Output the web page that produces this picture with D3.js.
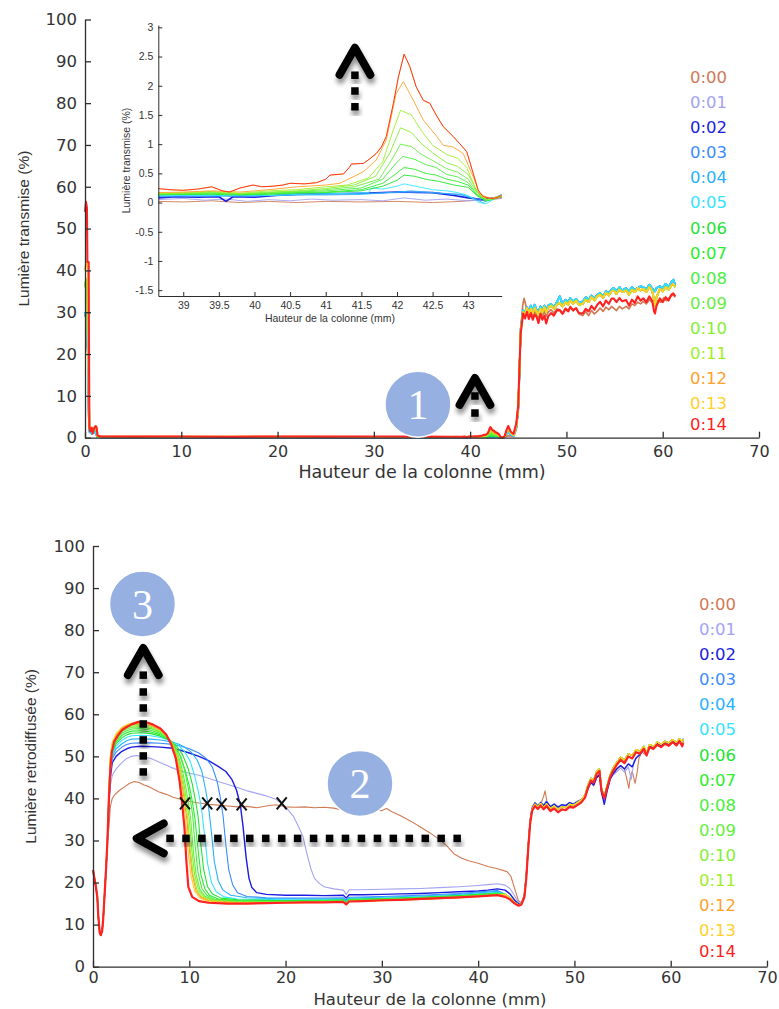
<!DOCTYPE html>
<html><head><meta charset="utf-8">
<script src="https://cdn.jsdelivr.net/npm/d3@7"></script>
<style>body{margin:0;background:#fff}svg{display:block}</style>
</head><body>
<svg id="chart" width="779" height="1009"></svg>
<script>
// ---------- categories / ticks ----------
const seriesLabels = ["0:00","0:01","0:02","0:03","0:04","0:05","0:06","0:07","0:08","0:09","0:10","0:11","0:12","0:13","0:14"];
const seriesColors = ["#d07a55","#a3a3f5","#1c1ce0","#3a8cff","#27b2ff","#34e4ff","#22e432","#2aee2a","#48ef3c","#66ef3c","#84ef32","#9eef28","#ffa12a","#ffd02a","#ff2222"];
const xTicks = [0,10,20,30,40,50,60,70];
const yTicks = [0,10,20,30,40,50,60,70,80,90,100];
const insetXTicks = [39,39.5,40,40.5,41,41.5,42,42.5,43];
const insetYTicks = [-1.5,-1,-0.5,0,0.5,1,1.5,2,2.5,3];

// ---------- transmission: heads (0 - 38 mm) ----------
const transHeadRed = [[0,54],[0.1,56.4],[0.2,55],[0.25,42],[0.38,42],[0.45,2.5],[0.55,1.5],[0.7,2.4],[0.8,1],[0.95,2.3],[1.1,2.8],[1.2,2.5],[1.3,0.5],[1.6,0.3],[5,0.25],[10,0.3],[15,0.2],[20,0.3],[25,0.25],[30,0.28],[35,0.26],[38,0.22]];
const transHeadOrange = [[0,40],[0.12,42],[0.3,41],[0.4,3],[0.6,2],[0.8,1.5],[1,2.6],[1.2,2.2],[1.3,0.4],[1.6,0.25],[10,0.25],[20,0.25],[30,0.22],[38,0.2]];
const transHeadGreen = [[0,36],[0.12,38],[0.25,36],[0.3,23.5],[0.38,23],[0.45,2.2],[0.7,1.6],[1,2.2],[1.2,1.8],[1.3,0.3],[1.6,0.2],[10,0.2],[20,0.2],[30,0.2],[38,0.18]];
const transHeadBlue = [[0,30],[0.15,28],[0.3,20],[0.42,1.5],[0.7,1],[1,1.5],[1.3,0.2],[1.6,0.1],[10,0.1],[20,0.1],[30,0.1],[38,0.1]];

// ---------- transmission: inset window (38.65 - 43.47 mm) ----------
const insetT00 = [[38.65,0.02],[39.0,0.01],[39.4,0.03],[39.8,0.0],[40.2,0.02],[40.6,0.0],[41.0,0.02],[41.5,0.01],[42.0,0.02],[42.5,0.0],[42.9,0.02],[43.1,0.04],[43.3,0.05],[43.47,0.07]];
const insetT01 = [[38.65,0.05],[39.0,0.07],[39.3,0.04],[39.6,0.06],[39.9,0.02],[40.2,0.05],[40.5,0.03],[40.8,0.06],[41.1,0.04],[41.5,0.05],[41.8,0.03],[42.1,0.08],[42.4,0.04],[42.7,0.06],[43.0,0.03],[43.2,0.04],[43.47,0.08]];
const insetT02 = [[38.65,0.08],[38.9,0.1],[39.2,0.09],[39.5,0.1],[39.6,0.02],[39.7,0.1],[40.0,0.09],[40.3,0.12],[40.6,0.14],[41.0,0.15],[41.5,0.16],[42.0,0.18],[42.5,0.17],[42.8,0.12],[43.0,0.08],[43.2,0.05],[43.47,0.1]];
const insetT03 = [[38.65,0.1],[39.0,0.1],[39.4,0.12],[39.8,0.1],[40.2,0.12],[40.6,0.14],[41.0,0.15],[41.5,0.16],[42.0,0.17],[42.5,0.17],[42.9,0.14],[43.1,0.07],[43.25,0.03],[43.47,0.12]];
const insetT04 = [[38.65,0.11],[39.0,0.12],[39.4,0.11],[39.8,0.12],[40.2,0.12],[40.6,0.13],[41.0,0.13],[41.5,0.14],[42.0,0.18],[42.2,0.2],[42.4,0.18],[42.6,0.16],[42.9,0.13],[43.1,0.06],[43.2,0.0],[43.3,0.04],[43.47,0.14]];
const insetT05 = [[38.65,0.12],[39.0,0.13],[39.4,0.12],[39.8,0.13],[40.2,0.12],[40.6,0.14],[41.0,0.15],[41.4,0.16],[41.6,0.17],[41.65,0.25],[41.8,0.23],[42.0,0.28],[42.1,0.32],[42.3,0.27],[42.5,0.22],[42.7,0.2],[42.85,0.17],[43.0,0.12],[43.15,0.0],[43.25,-0.02],[43.35,0.05],[43.47,0.12]];
const insetT06 = [[38.65,0.13],[39.0,0.14],[39.4,0.14],[39.8,0.13],[40.2,0.14],[40.6,0.16],[41.0,0.17],[41.5,0.2],[41.8,0.28],[42.0,0.38],[42.1,0.47],[42.25,0.45],[42.4,0.4],[42.6,0.36],[42.8,0.3],[43.0,0.26],[43.12,0.12],[43.25,0.03],[43.47,0.1]];
const insetT07 = [[38.65,0.14],[39.0,0.14],[39.4,0.15],[39.8,0.14],[40.2,0.15],[40.6,0.17],[41.0,0.18],[41.5,0.22],[41.8,0.33],[41.97,0.48],[42.1,0.6],[42.25,0.57],[42.4,0.5],[42.55,0.47],[42.7,0.4],[42.85,0.36],[43.0,0.3],[43.12,0.13],[43.25,0.03],[43.47,0.1]];
const insetT08 = [[38.65,0.14],[39.0,0.15],[39.4,0.16],[39.8,0.14],[40.2,0.16],[40.6,0.18],[41.0,0.2],[41.5,0.25],[41.8,0.4],[41.95,0.62],[42.08,0.79],[42.25,0.74],[42.4,0.65],[42.55,0.6],[42.7,0.48],[42.85,0.44],[43.0,0.34],[43.12,0.15],[43.25,0.04],[43.47,0.11]];
const insetT09 = [[38.65,0.15],[39.0,0.15],[39.4,0.17],[39.8,0.15],[40.2,0.17],[40.6,0.19],[41.0,0.22],[41.4,0.27],[41.75,0.4],[41.92,0.72],[42.05,1.0],[42.2,0.96],[42.35,0.82],[42.5,0.72],[42.7,0.58],[42.85,0.52],[43.0,0.4],[43.12,0.18],[43.25,0.04],[43.47,0.11]];
const insetT10 = [[38.65,0.15],[39.0,0.16],[39.4,0.18],[39.8,0.15],[40.2,0.18],[40.6,0.2],[41.0,0.24],[41.4,0.3],[41.7,0.45],[41.9,0.85],[42.05,1.28],[42.2,1.2],[42.35,1.0],[42.5,0.85],[42.7,0.68],[42.85,0.62],[43.0,0.48],[43.12,0.2],[43.25,0.05],[43.47,0.12]];
const insetT11 = [[38.65,0.16],[39.0,0.17],[39.4,0.19],[39.8,0.16],[40.2,0.2],[40.6,0.22],[41.0,0.27],[41.3,0.3],[41.6,0.42],[41.8,0.7],[41.95,1.25],[42.05,1.58],[42.2,1.5],[42.35,1.22],[42.5,0.98],[42.7,0.82],[42.85,0.76],[42.98,0.6],[43.1,0.25],[43.2,0.08],[43.3,0.05],[43.47,0.12]];
const insetT12 = [[38.65,0.17],[39.0,0.18],[39.4,0.2],[39.8,0.18],[40.2,0.22],[40.6,0.27],[41.0,0.3],[41.2,0.33],[41.4,0.45],[41.53,0.53],[41.71,0.73],[41.85,1.07],[41.99,1.87],[42.09,2.07],[42.23,1.75],[42.37,1.41],[42.56,1.13],[42.65,0.98],[42.79,0.95],[42.93,0.84],[43.07,0.44],[43.16,0.15],[43.3,0.07],[43.47,0.1]];
const insetT14 = [[38.65,0.24],[38.8,0.22],[39.0,0.21],[39.2,0.23],[39.4,0.27],[39.55,0.2],[39.65,0.18],[39.8,0.25],[39.98,0.3],[40.1,0.27],[40.26,0.28],[40.4,0.3],[40.5,0.33],[40.7,0.32],[40.87,0.34],[41.0,0.4],[41.06,0.47],[41.25,0.49],[41.33,0.6],[41.36,0.66],[41.53,0.67],[41.62,0.75],[41.71,0.84],[41.78,0.95],[41.85,1.13],[41.95,1.7],[42.02,2.15],[42.1,2.54],[42.18,2.33],[42.27,1.98],[42.37,1.75],[42.46,1.7],[42.55,1.5],[42.65,1.3],[42.79,1.13],[42.88,1.01],[42.98,0.87],[43.07,0.5],[43.14,0.21],[43.21,0.1],[43.33,0.07],[43.4,0.08],[43.47,0.13]];
const insetT13 = insetT14;

// ---------- transmission: tails (43.5 - 61.3 mm) ----------
const transTailRed = [[43.6,0.5],[43.8,2],[43.96,2.8],[44.2,1.5],[44.5,0.9],[44.8,3.5],[45.0,8],[45.1,15.4],[45.25,24.9],[45.5,29.7],[45.7,28.5],[45.9,30.1],[46.1,28.4],[46.3,29.8],[46.5,28.2],[46.7,29.4],[46.9,28.9],[47.1,27.4],[47.3,29.6],[47.5,28.2],[47.7,29.2],[47.9,27.3],[48.1,29],[48.4,29.8],[48.7,29.2],[49.0,30.4],[49.3,30.5],[49.6,29.6],[49.9,30.8],[50.2,30.2],[50.4,31.3],[50.7,30.4],[51.0,31],[51.3,29.8],[51.7,29.7],[52.0,30.8],[52.3,30.2],[52.6,31.5],[52.9,30.6],[53.2,31.8],[53.5,32.5],[53.8,31.4],[54.1,32.8],[54.4,32],[54.7,33.3],[54.9,33.3],[55.2,32.4],[55.5,33.4],[55.8,32.6],[56.2,32.9],[56.5,31.6],[56.8,33],[57.1,32.2],[57.4,33.8],[57.7,32.8],[58.0,33.3],[58.3,32.4],[58.6,33.8],[58.9,32.8],[59.1,30.2],[59.2,29.7],[59.35,31.5],[59.7,33.3],[60.0,32.4],[60.3,33.6],[60.6,32.8],[60.9,34.2],[61.1,34.5],[61.3,33.8]];
const transTailGreen = [[43.6,0.3],[43.8,1.6],[43.96,2.2],[44.2,1.2],[44.5,0.6],[44.8,3],[45.0,7.5],[45.1,15],[45.25,25.5],[45.5,30],[45.7,29.5],[45.9,31],[46.1,29.6],[46.3,30.8],[46.5,29.8],[46.7,31],[46.9,30.2],[47.1,29.4],[47.3,30.8],[47.5,30],[47.7,31.2],[47.9,30],[48.1,31],[48.4,31.6],[48.7,30.8],[49.0,31.8],[49.3,32.2],[49.6,31.4],[49.9,32.4],[50.2,31.8],[50.4,32.8],[50.7,32],[51.0,32.8],[51.3,31.8],[51.7,32],[52.0,33],[52.3,32.4],[52.6,33.6],[52.9,32.8],[53.2,33.8],[53.5,34.2],[53.8,33.4],[54.1,34.6],[54.4,34],[54.7,35],[54.9,35.2],[55.2,34.4],[55.5,35.4],[55.8,34.8],[56.2,35.2],[56.5,34.2],[56.8,35.4],[57.1,34.8],[57.4,35.8],[57.7,35.2],[58.0,35.6],[58.3,34.8],[58.6,36],[58.9,35.2],[59.1,33],[59.2,31.6],[59.35,33.5],[59.7,35.6],[60.0,35],[60.3,36],[60.6,35.4],[60.9,36.4],[61.1,36.8],[61.3,36]];
const transTailBlue = [[43.6,0.2],[43.8,1],[43.96,1.4],[44.2,0.8],[44.5,0.4],[44.8,2.5],[45.0,7],[45.1,14],[45.25,26],[45.5,30.5],[45.7,30],[45.9,31.2],[46.1,30.2],[46.3,31.6],[46.5,30.4],[46.7,31.8],[46.9,30.6],[47.1,30],[47.3,31.4],[47.5,30.6],[47.7,31.6],[47.9,30.4],[48.1,31.6],[48.4,32],[48.7,31.2],[49.0,32.4],[49.3,33.8],[49.6,32],[49.9,33],[50.2,32.4],[50.4,33.4],[50.7,32.6],[51.0,33.2],[51.3,32.2],[51.7,32.6],[52.0,33.6],[52.3,33],[52.6,34],[52.9,33.2],[53.2,34.2],[53.5,34.6],[53.8,33.8],[54.1,35],[54.4,34.6],[54.7,35.4],[54.9,35.8],[55.2,35],[55.5,36],[55.8,35.2],[56.2,35.8],[56.5,35],[56.8,36],[57.1,35.4],[57.7,36.2],[58.0,36],[58.3,35.4],[58.6,36.6],[58.9,35.8],[59.2,35],[59.35,35.8],[59.7,36.2],[60.0,35.8],[60.3,36.8],[60.6,36],[60.9,37.2],[61.1,37.8],[61.3,36.6]];
const transTailBrown = [[43.6,0.1],[43.96,0.5],[44.5,0.3],[44.8,2],[45.0,6.5],[45.1,13],[45.25,25],[45.45,31.5],[45.6,33.3],[45.75,32],[45.9,30.5],[46.1,29.2],[46.3,30.2],[46.5,29],[46.7,30],[46.9,29.4],[47.1,28.8],[47.3,30],[47.5,29.2],[47.7,30.2],[47.9,29],[48.1,30],[48.4,30.6],[48.7,29.8],[49.0,30.8],[49.3,30.6],[49.6,29.8],[49.9,31],[50.2,30.4],[50.4,31.2],[50.7,30.6],[51.0,30.8],[51.3,29.6],[51.7,29.2],[52.0,30.2],[52.3,29.2],[52.6,30.4],[52.9,29.6],[53.2,30.2],[53.5,31],[53.8,30.2],[54.1,31.2],[54.4,30.6],[54.7,31.4],[54.9,31],[55.2,30.4],[55.5,31.4],[55.8,30.8],[56.2,31.4],[56.5,30.8],[56.8,32],[57.1,31.6],[57.4,32.4],[57.7,32],[58.0,32.6],[58.3,32],[58.6,33],[58.9,32.4],[59.2,31.8],[59.5,32.8],[59.8,32.4],[60.1,33.4],[60.4,32.8],[60.8,33.8],[61.1,34.2],[61.3,33.6]];

// ---------- backscattering: shared head (0 - 1.5 mm) ----------
const backHead = [[0,23],[0.15,21],[0.3,19],[0.45,16.5],[0.55,12],[0.7,8],[0.8,7.5],[0.95,8.5],[1.05,11],[1.2,17],[1.35,23],[1.5,30]];

// ---------- backscattering: bodies (1.65 - 42 mm) ----------
const backB00 = [[1.65,33],[1.8,38],[2.0,40],[2.3,41],[2.8,42],[3.3,42.8],[3.8,43.6],[4.3,44],[4.8,43.8],[5.3,43.2],[5.8,42.8],[6.3,42.2],[6.8,41.6],[7.3,41.2],[7.8,40.8],[8.3,40.3],[8.8,40.0],[9.5,39.6],[10.2,39.2],[11,38.9],[12,38.6],[13,38.4],[14,38.2],[15,38],[16,38.1],[17,37.8],[18,38.2],[19,38.5],[20,38],[21,37.9],[22,38],[23,37.8],[24,37.9],[25,37.7],[26,37.2],[26.5,38],[27,37.6],[28,37.5],[29,37.3],[30,37.1],[30.5,37.6],[31,36.9],[32,35.8],[33,34.6],[34,33.2],[35,31.8],[36,30.2],[36.8,28.6],[37.5,26.8],[38.3,25.8],[39,25.2],[40,24.6],[41,23.8],[42,23.3],[43,22.6]];
const backB01 = [[1.65,38],[1.8,43],[2.0,45.5],[2.4,47],[3,48.5],[3.5,49.5],[4,50],[4.5,50.2],[5,50],[5.5,49.8],[6,49.5],[6.5,49],[7,48.5],[7.5,48],[8,47.5],[9,46.6],[10,46],[11,45.5],[12,44.8],[13,44],[14,43.3],[15,42.6],[16,41.8],[17,41.2],[18,40.6],[19,39.8],[19.6,38.8],[20.2,37.4],[20.8,35.8],[21.3,33.5],[21.8,31],[22.2,27],[22.6,23.5],[23,21],[23.5,19.8],[24,19],[25,18.5],[26,18.2],[26.3,17.2],[26.6,18.3],[28,18.3],[30,18.4],[32,18.5],[34,18.6],[36,18.8],[38,19],[40,19.3],[41,19.5],[42,19.7]];
const backB02 = [[1.65,39],[1.8,45],[2.0,48.5],[2.4,50],[3,51.2],[3.5,51.8],[4,52.2],[5,52.4],[6,52.3],[7,52.2],[8,52],[9,51.5],[10,50.8],[11,50],[12,49],[13,47.6],[13.8,46.4],[14.4,44.6],[14.9,42],[15.3,38.5],[15.6,33],[15.9,26],[16.2,21],[16.5,18.8],[17,17.6],[18,17.2],[20,17],[22,17],[24,16.9],[26,17],[26.3,16.3],[26.6,17.1],[28,17.1],[30,17.2],[32,17.3],[34,17.4],[36,17.6],[38,17.8],[40,18],[41,18.2],[42,18.5]];
const backB03 = [[1.65,39],[1.8,46],[2.0,49.5],[2.4,51],[3,52.2],[3.5,52.8],[4,53.1],[5,53.2],[6,53.2],[7,53.1],[8,52.9],[9,52.5],[10,51.8],[11,50.8],[11.8,49.4],[12.4,47.4],[12.9,44],[13.2,40.5],[13.5,36],[13.8,29],[14.1,23],[14.5,19.5],[15,17.6],[16,16.7],[18,16.4],[20,16.3],[24,16.3],[26,16.4],[26.3,15.8],[26.6,16.5],[30,16.7],[34,17],[38,17.4],[42,18.1]];
const backB04 = [[1.65,39],[1.8,46.5],[2.0,50],[2.4,51.8],[3,53],[3.5,53.7],[4,54.1],[5,54.2],[6,54.1],[7,53.9],[8,53.5],[8.8,53],[9.5,52.2],[10.2,51],[10.8,49.2],[11.3,46.5],[11.7,42],[12,38],[12.3,32],[12.6,25],[13,20.5],[13.5,18.2],[14.3,17],[16,16.4],[20,16.1],[24,16.1],[26,16.2],[26.3,15.6],[26.6,16.3],[30,16.5],[34,16.8],[38,17.2],[42,17.9]];
const backB05 = [[1.65,39.5],[1.8,47],[2.0,50.5],[2.4,52.5],[3,53.8],[3.5,54.5],[4,54.9],[5,55],[6,54.9],[7,54.5],[8,53.8],[8.8,52.8],[9.5,51.2],[10.1,48.8],[10.6,45],[11,41],[11.3,37],[11.6,31],[11.9,24.5],[12.3,20],[12.8,17.8],[13.6,16.6],[15,16.1],[20,15.9],[24,15.9],[26,16],[26.3,15.4],[26.6,16.1],[30,16.3],[34,16.6],[38,17],[42,17.7]];
const backB06 = [[1.65,40],[1.8,47.5],[2.0,51],[2.4,53],[3,54.4],[3.5,55.1],[4,55.5],[5,55.6],[6,55.4],[7,54.8],[8,53.8],[8.7,52.4],[9.3,50.4],[9.9,47],[10.3,43.5],[10.6,40],[10.9,36],[11.2,29],[11.5,23],[11.9,19],[12.4,17.3],[13.3,16.3],[15,15.9],[20,15.7],[24,15.8],[26,15.9],[26.3,15.3],[26.6,16],[30,16.2],[34,16.5],[38,16.9],[42,17.5]];
const backB07 = [[1.65,40],[1.8,48],[2.0,51.5],[2.4,53.5],[3,55],[3.5,55.6],[4,56],[5,56.1],[6,55.8],[7,55.1],[7.8,54],[8.5,52.4],[9.1,50],[9.6,46.5],[10,43],[10.3,39.5],[10.6,35],[10.9,28],[11.2,22],[11.6,18.6],[12.1,17],[13,16.1],[15,15.7],[20,15.6],[24,15.7],[26,15.8],[26.3,15.2],[26.6,15.9],[30,16.1],[34,16.4],[38,16.8],[42,17.4]];
const backB08 = [[1.65,40.5],[1.8,48.5],[2.0,52],[2.4,54],[3,55.5],[3.5,56.1],[4,56.5],[5,56.6],[6,56.2],[7,55.4],[7.8,54.2],[8.4,52.8],[9,50.4],[9.5,46.8],[9.8,43.5],[10.1,40],[10.35,36],[10.6,29],[10.9,22.5],[11.3,18.6],[11.8,17],[12.7,16],[15,15.6],[20,15.5],[24,15.6],[26,15.7],[26.3,15.1],[26.6,15.8],[30,16],[34,16.3],[38,16.7],[42,17.3]];
const backB09 = [[1.65,41],[1.8,49],[2.0,52.5],[2.4,54.5],[3,55.9],[3.5,56.5],[4,56.9],[5,57],[6,56.6],[7,55.7],[7.8,54.4],[8.4,52.6],[8.9,50],[9.3,46.5],[9.65,42.5],[9.9,39],[10.15,35],[10.4,28],[10.7,22],[11.1,18.4],[11.6,16.8],[12.5,15.9],[15,15.5],[20,15.4],[24,15.5],[26,15.6],[26.3,15],[26.6,15.7],[30,15.9],[34,16.2],[38,16.6],[42,17.2]];
const backB10 = [[1.65,41],[1.8,49.3],[2.0,52.8],[2.4,54.8],[3,56.2],[3.5,56.8],[4,57.2],[5,57.3],[6,56.9],[7,55.9],[7.7,54.7],[8.3,52.8],[8.8,50],[9.2,46.3],[9.5,42.5],[9.75,39],[10,35],[10.25,28],[10.55,22],[10.95,18.3],[11.5,16.7],[12.4,15.8],[15,15.4],[20,15.3],[24,15.4],[26,15.5],[26.3,14.9],[26.6,15.6],[30,15.8],[34,16.1],[38,16.5],[42,17.1]];
const backB11 = [[1.65,41.5],[1.8,49.6],[2.0,53],[2.4,55],[3,56.5],[3.5,57.1],[4,57.5],[5,57.6],[6,57.2],[7,56.1],[7.7,54.8],[8.2,53.1],[8.7,50.2],[9.1,46.4],[9.4,42.4],[9.62,39],[9.85,35],[10.1,28],[10.4,22],[10.8,18.2],[11.3,16.6],[12.2,15.7],[15,15.3],[20,15.3],[24,15.4],[26,15.5],[26.3,14.9],[26.6,15.6],[30,15.8],[34,16.1],[38,16.5],[42,17.1]];
const backB12 = [[1.65,42],[1.8,49.8],[2.0,53.2],[2.4,55.2],[3,56.7],[3.5,57.3],[4,57.7],[5,57.8],[6,57.4],[7,56.3],[7.6,55.1],[8.2,53],[8.6,50.3],[9,46.4],[9.3,42.3],[9.52,39],[9.75,35],[10,28],[10.3,22],[10.7,18],[11.2,16.5],[12.1,15.6],[15,15.2],[20,15.2],[24,15.3],[26,15.4],[26.3,14.8],[26.6,15.5],[30,15.7],[34,16],[38,16.4],[42,17]];
const backB13 = [[1.65,42],[1.8,50],[2.0,53.3],[2.4,55.4],[3,56.9],[3.5,57.5],[4,57.9],[5,58],[6,57.6],[7,56.5],[7.6,55.2],[8.1,53.2],[8.6,49.8],[8.95,46],[9.2,42.3],[9.4,39],[9.62,35],[9.85,28],[10.15,22],[10.55,18],[11.1,16.3],[12,15.5],[15,15.1],[20,15.2],[24,15.3],[26,15.4],[26.3,14.8],[26.6,15.5],[30,15.7],[34,16],[38,16.4],[42,17]];
const backB14 = [[1.65,40],[1.8,47],[1.95,51],[2.2,53.5],[2.6,55],[3,56.2],[3.5,57],[4,57.6],[4.7,58.2],[5.5,58.1],[6.2,57.6],[7,56.6],[7.6,55.2],[8.1,53],[8.6,49.5],[9.0,44],[9.25,39],[9.5,33],[9.7,25],[9.9,19],[10.3,16.6],[11,15.6],[12,15.2],[14,15],[16,15],[18,15.1],[20,15.2],[22,15.3],[24,15.3],[26,15.4],[26.3,14.8],[26.6,15.5],[28,15.6],[30,15.8],[32,15.9],[34,16.1],[36,16.3],[38,16.5],[40,16.7],[42,17]];

// ---------- backscattering: tails (42.8 - 61.3 mm) ----------
const backTailRed = [[42.8,16.6],[43.3,16],[43.8,15],[44.2,14.5],[44.5,14.8],[44.8,16.5],[45.0,21],[45.2,28],[45.4,34],[45.6,37],[45.9,38.2],[46.2,37.5],[46.5,38.3],[46.8,37.4],[47.1,38.2],[47.5,37],[47.9,37.6],[48.3,36.7],[48.7,37.4],[49.1,37.2],[49.5,38],[49.9,37.8],[50.3,38.4],[50.7,39],[51.1,40.2],[51.4,42.5],[51.7,44.2],[52.0,43.8],[52.3,45.8],[52.6,46.5],[52.8,42],[53.1,40],[53.4,42.5],[53.7,45],[54.0,46.5],[54.4,48],[54.8,49.2],[55.2,48.4],[55.6,50],[56.0,49.5],[56.4,51],[56.8,50.6],[57.2,51.8],[57.5,50.2],[57.8,52.2],[58.2,51.8],[58.6,52.8],[59.0,52.2],[59.4,53],[59.8,52.5],[60.2,53.4],[60.6,52.6],[60.9,53.6],[61.2,52.4],[61.3,53.2]];
const backTailLow = [[42.8,17.2],[43.3,16.4],[43.8,15.2],[44.2,14.7],[44.5,14.9],[44.8,16.6],[45.0,21.2],[45.2,28.3],[45.4,34.3],[45.6,37.3],[45.9,38.6],[46.2,38],[46.5,38.8],[46.8,37.9],[47.1,38.7],[47.5,37.6],[47.9,38.2],[48.3,37.4],[48.7,38],[49.1,37.8],[49.5,38.6],[49.9,38.4],[50.3,39],[50.7,39.6],[51.1,40.8],[51.4,43.2],[51.7,44.8],[52.0,44.4],[52.3,46.4],[52.6,47],[52.8,42.6],[53.1,40.4],[53.4,43.2],[53.7,45.6],[54.0,47.2],[54.4,48.6],[54.8,49.8],[55.2,49.1],[55.6,50.6],[56.0,50.2],[56.4,51.6],[56.8,51.2],[57.2,52.4],[57.5,51],[57.8,52.8],[58.2,52.4],[58.6,53.4],[59.0,52.9],[59.4,53.6],[59.8,53.2],[60.2,54],[60.6,53.3],[60.9,54.2],[61.2,53.4],[61.3,54]];
const backTailBlue = [[42.8,18.2],[43.3,17.3],[43.8,15.8],[44.2,14.9],[44.5,15],[44.8,16.8],[45.0,21.5],[45.2,28.5],[45.4,34.5],[45.6,37.4],[45.9,38.9],[46.2,38.2],[46.5,39],[46.8,38.3],[47.1,39.2],[47.5,38],[47.9,38.6],[48.3,37.9],[48.7,38.5],[49.1,38.3],[49.5,39],[49.9,38.6],[50.3,39.2],[50.7,39.6],[51.1,40.4],[51.4,42.2],[51.7,43.8],[52.0,43.2],[52.3,45],[52.6,45.6],[52.8,41.5],[53.1,38.6],[53.4,41.8],[53.7,44.5],[54.0,45.8],[54.4,47],[54.8,47.8],[55.2,47],[55.6,48.2],[56.0,47.5],[56.4,49.6],[56.8,50.4],[57.2,51.8],[57.5,50.4],[57.8,52.4],[58.2,52],[58.6,53],[59.0,52.5],[59.4,53.2],[59.8,52.8],[60.2,53.6],[60.6,52.9],[60.9,53.8],[61.2,53.1],[61.3,54.2]];
const backTailLav = [[42.8,19.4],[43.3,18.6],[43.8,16.8],[44.2,15.2],[44.5,15.1],[44.8,17],[45.0,22],[45.2,29],[45.4,35],[45.6,37.8],[45.9,39],[46.2,38.4],[46.5,39.2],[46.8,38.5],[47.1,39.4],[47.5,38.2],[47.9,38.8],[48.3,38.1],[48.7,38.6],[49.1,38.4],[49.5,39],[49.9,38.8],[50.3,39.4],[50.7,39.8],[51.1,40.6],[51.4,42.4],[51.7,44],[52.0,43.5],[52.3,45.2],[52.6,45.8],[52.8,42],[53.1,39.5],[53.4,42],[53.7,44.5],[54.0,45.5],[54.4,46.4],[54.8,47.2],[55.2,46.2],[55.6,47.5],[55.9,44.5],[56.2,49],[56.6,50.2],[57.0,51.4],[57.4,50.6],[57.8,52.2],[58.2,51.8],[58.6,52.8],[59.0,52.4],[59.4,53.1],[59.8,52.7],[60.2,53.4],[60.6,52.8],[60.9,53.6],[61.2,53],[61.3,53.9]];
const backTailBrown = [[43.4,21.5],[43.8,18.5],[44.2,15.6],[44.5,15.2],[44.8,17.2],[45.0,22],[45.2,29],[45.4,35],[45.6,38],[45.9,39],[46.2,38],[46.5,38.6],[46.8,40.5],[46.95,41.8],[47.2,38.5],[47.5,37.4],[47.9,38.2],[48.3,37.6],[48.7,38],[49.1,37.8],[49.5,38.4],[49.9,38.2],[50.3,38.8],[50.7,39.4],[51.1,40.2],[51.4,42.4],[51.7,43.8],[52.0,43],[52.3,44.8],[52.6,45.4],[52.8,42.4],[53.1,40],[53.4,42.5],[53.7,44.8],[54.0,46],[54.4,47.2],[54.8,47.8],[55.2,47],[55.5,44],[55.65,42.4],[55.8,45],[56.0,46.5],[56.3,43.6],[56.5,46],[56.7,49.5],[57.0,51],[57.4,50.4],[57.8,52],[58.2,51.6],[58.6,52.6],[59.0,52.2],[59.4,53],[59.8,52.5],[60.2,53.2],[60.6,52.6],[60.9,53.4],[61.2,52.8],[61.3,53.6]];

// ---------- annotations (data units) ----------
const crossMarks = [[9.55,38.8],[11.86,38.8],[13.36,38.6],[15.44,38.6],[19.6,38.8]];
const hDots = [8.0,9.66,11.31,12.97,14.63,16.28,17.94,19.6,21.25,22.91,24.57,26.22,27.88,29.54,31.19,32.85,34.51,36.16,37.82];
const vDots = [69.3,65.3,61.5,57.7,53.9,50.1,46.3];
const insetDots = [2.18,1.91,1.64];
const smallDots = [9.97,5.9];

// ---------- assemble ----------
const insetSets = [insetT00,insetT01,insetT02,insetT03,insetT04,insetT05,insetT06,insetT07,insetT08,insetT09,insetT10,insetT11,insetT12,insetT13,insetT14];
const transHeads = [transHeadBlue,transHeadBlue,transHeadBlue,transHeadBlue,transHeadBlue,transHeadBlue,transHeadGreen,transHeadGreen,transHeadGreen,transHeadGreen,transHeadGreen,transHeadGreen,transHeadOrange,transHeadOrange,transHeadRed];
const transTails = [transTailBrown,transTailBlue,transTailBlue,transTailBlue,transTailBlue,transTailBlue,transTailGreen,transTailGreen,transTailGreen,transTailGreen,transTailGreen,transTailGreen,transTailGreen,transTailGreen,transTailRed];
const backBodies = [backB00,backB01,backB02,backB03,backB04,backB05,backB06,backB07,backB08,backB09,backB10,backB11,backB12,backB13,backB14];
const backTails = [backTailBrown,backTailLav,backTailBlue,backTailLow,backTailLow,backTailLow,backTailLow,backTailLow,backTailLow,backTailLow,backTailLow,backTailLow,backTailLow,backTailLow,backTailRed];

const svg = d3.select("#chart");
svg.append("rect").attr("width",779).attr("height",1009).attr("fill","#fff");
const defs = svg.append("defs");
const f = defs.append("filter").attr("id","sh").attr("x","-60%").attr("y","-60%").attr("width","220%").attr("height","220%");
f.append("feGaussianBlur").attr("in","SourceAlpha").attr("stdDeviation",2.6).attr("result","b");
f.append("feOffset").attr("in","b").attr("dx",1).attr("dy",5).attr("result","o");
f.append("feComponentTransfer").attr("in","o").attr("result","t").append("feFuncA").attr("type","linear").attr("slope",0.45);
const fm = f.append("feMerge"); fm.append("feMergeNode").attr("in","t"); fm.append("feMergeNode").attr("in","SourceGraphic");

const axisColor = "#2e2e2e", tickColor = "#333";
function styleAxis(g, fs, family){
  g.select(".domain").attr("stroke",axisColor).attr("stroke-width",1.3);
  g.selectAll(".tick line").attr("stroke",axisColor).attr("stroke-width",1.3);
  g.selectAll(".tick text").attr("fill",tickColor).attr("font-size",fs).attr("font-family",family);
}
const fmt = d => String(d);

function mainChart(xr, yr, series, widths, yLabel, ylx, xlabY, xlabFs, xPad, legendX, legendY0){
  const x = d3.scaleLinear().domain([0,70]).range(xr);
  const y = d3.scaleLinear().domain([0,100]).range(yr);
  const line = d3.line().x(d=>x(d[0])).y(d=>y(d[1]));
  const g = svg.append("g");
  series.forEach((s,i)=>{
    g.append("path").attr("d",line(s)).attr("fill","none").attr("stroke",seriesColors[i])
      .attr("stroke-width",widths[i]).attr("stroke-linejoin","round");
  });
  const gx = svg.append("g").attr("transform",`translate(0,${yr[0]})`)
    .call(d3.axisBottom(x).tickValues(xTicks).tickFormat(fmt).tickSizeInner(-6).tickSizeOuter(0).tickPadding(xPad));
  styleAxis(gx,16,"DejaVu Sans");
  const gy = svg.append("g").attr("transform",`translate(${xr[0]},0)`)
    .call(d3.axisLeft(y).tickValues(yTicks).tickFormat(fmt).tickSizeInner(-6).tickSizeOuter(0).tickPadding(8));
  styleAxis(gy,16.5,"DejaVu Sans");
  svg.append("text").attr("x",(xr[0]+xr[1])/2).attr("y",xlabY).attr("text-anchor","middle")
    .attr("font-family","DejaVu Sans").attr("font-size",xlabFs).attr("fill","#333").text("Hauteur de la colonne (mm)");
  svg.append("text").attr("transform",`translate(${ylx},${(yr[0]+yr[1])/2}) rotate(-90)`).attr("text-anchor","middle")
    .attr("font-family","Liberation Sans").attr("font-size",15.5).attr("fill","#333").text(yLabel);
  const ly = d3.scaleLinear().domain([0,1]).range([legendY0, legendY0+25.1]);
  seriesLabels.forEach((lab,i)=>{
    svg.append("text").attr("x",legendX).attr("y",ly(i) - (i===14?4:0)).attr("dy","0.36em")
      .attr("font-family","DejaVu Sans").attr("font-size",16.5).attr("fill",seriesColors[i]).text(lab);
  });
  return {x,y};
}

// ---------- top: transmission ----------
const transSeries = seriesLabels.map((_,i)=>transHeads[i].concat(insetSets[i], transTails[i]));
const tw = seriesLabels.map((_,i)=> i===14?2.1:1.7);
const topChart = mainChart([85,759],[437.7,19.5],transSeries,tw,"Lumière transmise (%)",29,478,17.5,8,690,77);

// ---------- inset ----------
const ix = d3.scaleLinear().domain([38.65,43.47]).range([158.3,501.7]);
const iy = d3.scaleLinear().domain([-1.6,3.04]).range([296,25]);
const iline = d3.line().x(d=>ix(d[0])).y(d=>iy(d[1]));
const ig = svg.append("g");
insetSets.forEach((s,i)=>{
  ig.append("path").attr("d",iline(s)).attr("fill","none").attr("stroke",seriesColors[i])
    .attr("stroke-width", i===2?1.6:0.9).attr("stroke-linejoin","round");
});
const igx = svg.append("g").attr("transform",`translate(0,${iy.range()[0]})`)
  .call(d3.axisBottom(ix).tickValues(insetXTicks).tickFormat(fmt).tickSizeInner(-4).tickSizeOuter(0).tickPadding(6));
styleAxis(igx,10.5,"Liberation Sans");
const igy = svg.append("g").attr("transform",`translate(${ix.range()[0]},0)`)
  .call(d3.axisLeft(iy).tickValues(insetYTicks).tickFormat(fmt).tickSizeInner(-4).tickSizeOuter(0).tickPadding(5));
styleAxis(igy,10.5,"Liberation Sans");
igx.select(".domain").attr("stroke-width",1); igy.select(".domain").attr("stroke-width",1);
igx.selectAll(".tick line").attr("stroke-width",1); igy.selectAll(".tick line").attr("stroke-width",1);
svg.append("text").attr("x",(ix.range()[0]+ix.range()[1])/2).attr("y",322).attr("text-anchor","middle")
  .attr("font-family","Liberation Sans").attr("font-size",10.5).attr("fill","#333").text("Hauteur de la colonne (mm)");
svg.append("text").attr("transform",`translate(130,${(iy.range()[0]+iy.range()[1])/2}) rotate(-90)`).attr("text-anchor","middle")
  .attr("font-family","Liberation Sans").attr("font-size",10.5).attr("fill","#333").text("Lumière transmise (%)");

// ---------- bottom: backscattering ----------
const backSeries = seriesLabels.map((_,i)=>backHead.concat(backBodies[i], backTails[i]));
const bw = seriesLabels.map((_,i)=> i===14?2.2:(i===2?1.4:1.1));
const botChart = mainChart([93,767],[966.7,546],backSeries,bw,"Lumière retrodiffusée (%)",36,1005,16.5,5,699,604);

// ---------- annotations ----------
const ann = svg.append("g");
function bubble(cx, cy, label){
  ann.append("circle").attr("cx",cx).attr("cy",cy).attr("r",33).attr("fill","#96b0e1").attr("stroke","#fff").attr("stroke-width",1.5);
  ann.append("text").attr("x",cx).attr("y",cy).attr("dy","0.35em").attr("text-anchor","middle")
    .attr("font-family","Liberation Serif").attr("font-size",42).attr("fill","#fff").text(label);
}
function chevron(ax, ay, dir, arm){
  const pts = dir==="up" ? [[ax-arm*0.57,ay+arm],[ax,ay],[ax+arm*0.57,ay+arm]]
                         : [[ax+arm,ay-arm*0.55],[ax,ay],[ax+arm,ay+arm*0.55]];
  ann.append("path").attr("d",d3.line()(pts)).attr("fill","none").attr("stroke","#000")
    .attr("stroke-width",8).attr("stroke-linecap","round").attr("stroke-linejoin","round").attr("filter","url(#sh)");
}
function dot(cx, cy, s){
  ann.append("rect").attr("x",cx-s/2).attr("y",cy-s/2).attr("width",s).attr("height",s).attr("fill","#000").attr("filter","url(#sh)");
}
bubble(topChart.x(34.58), topChart.y(8.0), "1");
bubble(botChart.x(5.14), botChart.y(86.2), "3");
bubble(botChart.x(27.73), botChart.y(43.55), "2");
chevron(ix(41.41), iy(2.65), "up", 27);
insetDots.forEach(v=>dot(ix(41.41), iy(v), 7.5));
chevron(topChart.x(40.5), topChart.y(14.3), "up", 27);
smallDots.forEach(v=>dot(topChart.x(40.5), topChart.y(v), 7.5));
chevron(botChart.x(5.22), botChart.y(75.75), "up", 27);
vDots.forEach(v=>dot(botChart.x(5.22), botChart.y(v), 7.5));
chevron(botChart.x(4.54), botChart.y(30.5), "left", 27);
hDots.forEach(v=>dot(botChart.x(v), botChart.y(30.5), 7.5));
crossMarks.forEach(([mx,my])=>{
  const cx = botChart.x(mx), cy = botChart.y(my);
  ann.append("path").attr("d",`M${cx-5},${cy-6}L${cx+5},${cy+6}M${cx+5},${cy-6}L${cx-5},${cy+6}`)
    .attr("stroke","#111").attr("stroke-width",2).attr("fill","none");
});
</script>
</body></html>
